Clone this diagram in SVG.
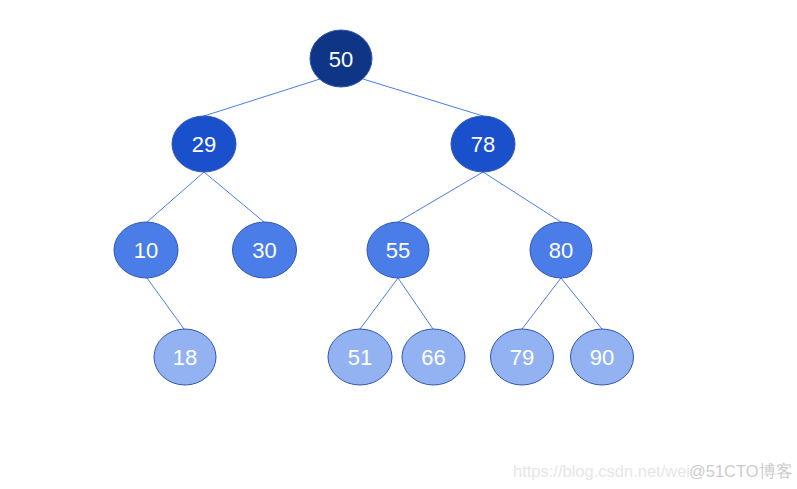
<svg xmlns="http://www.w3.org/2000/svg" width="797" height="489" viewBox="0 0 797 489">
<style>
.e{stroke:#4a7de8;stroke-width:1;fill:none}
.n ellipse{stroke:#2f55b0;stroke-width:1}
.n text{font-family:"Liberation Sans",Arial,sans-serif;font-size:22px;fill:#ffffff;text-anchor:middle;dominant-baseline:central}
.l1{fill:#0f3587}
.l2{fill:#1a50cc}
.l3{fill:#4a7de8}
.l4{fill:#93b2f2}
.wm{font-family:"Liberation Sans",Arial,sans-serif;font-size:16.5px}
</style>
<rect width="797" height="489" fill="#ffffff"/>
<g id="connectors">
<line class="e" x1="320" y1="79" x2="204" y2="116"/>
<line class="e" x1="363" y1="79" x2="483" y2="116"/>
<line class="e" x1="204" y1="172" x2="147" y2="222"/>
<line class="e" x1="204" y1="172" x2="264" y2="222"/>
<line class="e" x1="483" y1="172" x2="398" y2="222"/>
<line class="e" x1="483" y1="172" x2="561" y2="222"/>
<line class="e" x1="147" y1="278" x2="184" y2="329"/>
<line class="e" x1="398" y1="278" x2="360" y2="329"/>
<line class="e" x1="398" y1="278" x2="433" y2="329"/>
<line class="e" x1="561" y1="278" x2="522" y2="329"/>
<line class="e" x1="561" y1="278" x2="602" y2="329"/>
</g>
<g id="n50" class="n"><ellipse class="l1" cx="341" cy="58.5" rx="31" ry="28.5"/><text x="341" y="59">50</text></g>
<g id="n29" class="n"><ellipse class="l2" cx="204" cy="144" rx="32" ry="28"/><text x="204" y="144">29</text></g>
<g id="n78" class="n"><ellipse class="l2" cx="483" cy="144" rx="32" ry="28"/><text x="483" y="144">78</text></g>
<g id="n10" class="n"><ellipse class="l3" cx="146" cy="250" rx="32" ry="28"/><text x="146" y="250">10</text></g>
<g id="n30" class="n"><ellipse class="l3" cx="264.5" cy="250" rx="32" ry="28"/><text x="264.5" y="250">30</text></g>
<g id="n55" class="n"><ellipse class="l3" cx="398" cy="250" rx="31" ry="28"/><text x="398" y="250">55</text></g>
<g id="n80" class="n"><ellipse class="l3" cx="561" cy="250" rx="31" ry="28"/><text x="561" y="250">80</text></g>
<g id="n18" class="n"><ellipse class="l4" cx="185" cy="357" rx="31" ry="28"/><text x="185" y="357">18</text></g>
<g id="n51" class="n"><ellipse class="l4" cx="360" cy="357" rx="32" ry="28"/><text x="360" y="357">51</text></g>
<g id="n66" class="n"><ellipse class="l4" cx="433.5" cy="357" rx="31.5" ry="28"/><text x="433.5" y="357">66</text></g>
<g id="n79" class="n"><ellipse class="l4" cx="522" cy="357" rx="31.5" ry="28"/><text x="522" y="357">79</text></g>
<g id="n90" class="n"><ellipse class="l4" cx="602" cy="357" rx="31.5" ry="28"/><text x="602" y="357">90</text></g>
<text class="wm" x="513" y="477" fill="#e6e6e6">https://blog.csdn.net/wei</text>
<text class="wm" x="689" y="477" fill="#cccccc" font-size="16px" font-family="'Liberation Sans','Noto Sans CJK SC',sans-serif">@51CTO博客</text>
</svg>
